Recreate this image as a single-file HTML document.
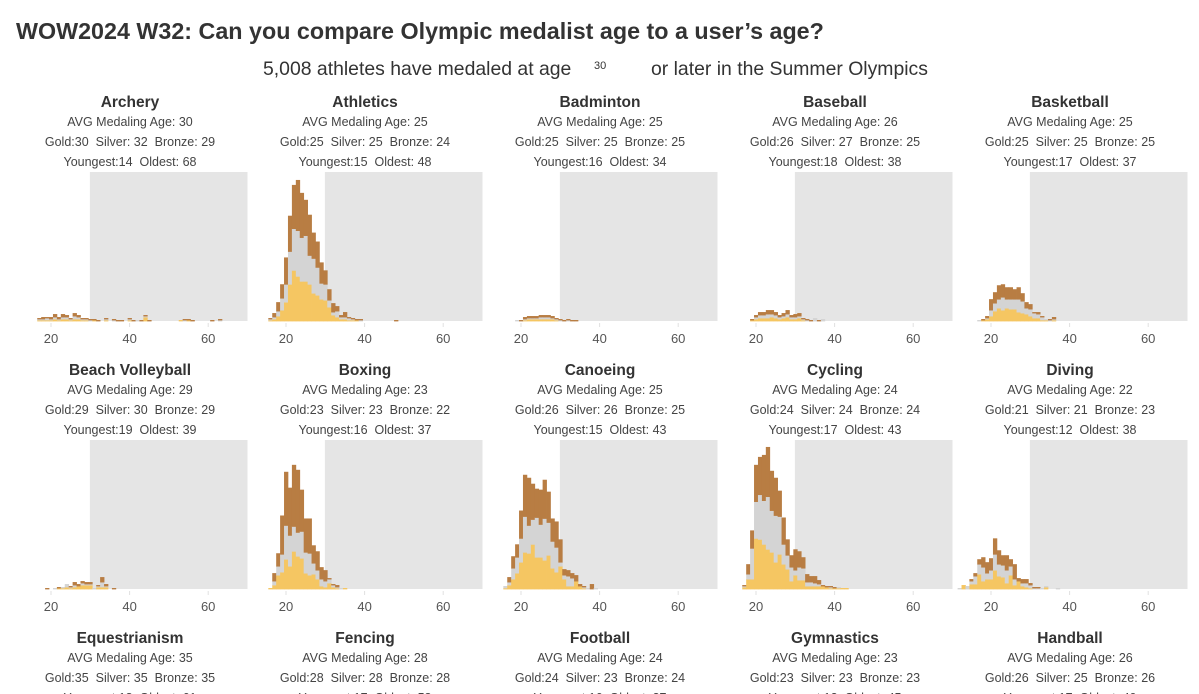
<!DOCTYPE html>
<html><head><meta charset="utf-8">
<style>
html,body{margin:0;padding:0;background:#fff;}
svg{display:block;font-family:"Liberation Sans",sans-serif;}
</style></head>
<body>
<svg id="chart" width="1199" height="694" viewBox="0 0 1199 694">
<text x="16" y="39" font-size="23.3" font-weight="bold" fill="#333">WOW2024 W32: Can you compare Olympic medalist age to a user’s age?</text>
<text x="263" y="75" font-size="19.4" fill="#333">5,008 athletes have medaled at age</text>
<text x="594" y="69" font-size="11" fill="#333">30</text>
<text x="651" y="75" font-size="19.4" fill="#333">or later in the Summer Olympics</text>
<g id="panels"></g>
</svg>
<script>
const sportNames = ["Archery","Athletics","Badminton","Baseball","Basketball","Beach Volleyball","Boxing","Canoeing","Cycling","Diving","Equestrianism","Fencing","Football","Gymnastics","Handball"];
const avgAges = [30,25,25,26,25,29,23,25,24,22,35,28,24,23,26];
const goldAvg = [30,25,25,26,25,29,23,26,24,21,35,28,24,23,26];
const silverAvg = [32,25,25,27,25,30,23,26,24,21,35,28,23,23,25];
const bronzeAvg = [29,24,25,25,25,29,22,25,24,23,35,28,24,23,26];
const youngest = [14,15,16,18,17,19,16,15,17,12,18,17,16,12,17];
const oldest = [68,48,34,38,37,39,37,43,43,38,61,58,37,45,40];
const xTicks = [20,40,60];
const userAge = 30;

const startAges = [17,16,19,19,17,19,16,16,17,12];
const archeryGold = [1,1,1,1,2,1,2,2,1,2,2,1,1,0,1,0,0,1,0,0,0,0,0,1,0,0,0,4,0,0,0,0,0,0,0,0,1,0,1,0,0,0,0,0,0,0,0];
const archerySilver = [1,1,2,1,2,1,2,2,1,3,2,1,1,1,0,0,0,1,0,1,0,0,0,1,0,1,0,1,0,0,0,0,0,0,0,0,0,1,0,0,0,0,0,0,0,0,1];
const archeryBronze = [1,2,1,2,3,2,3,2,1,3,2,1,1,1,1,1,0,1,0,1,1,1,0,1,1,0,1,1,1,0,0,0,0,0,0,0,0,1,1,1,0,0,0,0,1,0,1];
const athleticsGold = [1,2,5,11,19,37,51,45,40,40,37,28,26,22,21,14,6,4,2,2,1,1,1,0,0,0,0,0,0,0,0,0,0];
const athleticsSilver = [1,2,5,12,18,33,42,46,44,46,29,35,28,16,16,7,3,6,2,2,2,1,0,1,0,0,0,0,0,0,0,0,0];
const athleticsBronze = [1,4,9,14,27,36,44,51,45,36,41,26,26,21,14,11,9,5,2,5,1,1,1,1,0,0,0,0,0,0,0,0,1];
const badmintonGold = [0,0,1,2,2,2,2,2,2,2,1,0,0,0,0,0];
const badmintonSilver = [1,0,1,1,1,1,2,2,2,1,1,1,0,1,0,0];
const badmintonBronze = [0,1,2,2,2,2,2,2,2,2,1,1,1,1,1,1];
const baseballGold = [1,2,3,3,3,4,3,2,3,4,2,2,3,1,0,0,0,0,0];
const baseballSilver = [0,2,3,3,4,3,3,2,2,3,2,2,2,1,1,0,3,0,2];
const baseballBronze = [1,2,3,3,4,4,3,2,3,4,2,3,3,1,1,1,0,1,0];
const basketballGold = [0,1,2,5,10,13,11,13,12,12,9,8,7,5,3,3,1,1,0,1];
const basketballSilver = [1,0,1,6,8,9,13,9,10,10,13,12,6,7,5,4,3,1,1,1];
const basketballBronze = [0,1,2,11,11,14,13,12,12,10,12,8,6,5,1,2,1,0,1,2];
const beachGold = [0,0,0,1,1,2,1,2,3,4,4,4,0,2,2,2,0,0];
const beachSilver = [0,0,1,0,1,3,1,2,0,2,1,1,1,1,5,1,0,0];
const beachBronze = [1,0,0,1,0,0,1,3,2,2,2,2,0,1,5,2,0,1];
const boxingGold = [1,4,14,17,30,23,38,33,31,16,14,15,10,3,2,6,2,1,0,1];
const boxingSilver = [0,4,9,18,34,31,25,24,27,21,22,11,9,7,6,4,2,1,1,0];
const boxingBronze = [0,8,13,39,54,48,62,63,42,34,35,18,19,12,11,1,1,2,0,0];
const canoeGold = [1,4,10,16,27,37,36,45,32,32,29,34,21,17,23,10,3,3,8,3,1,0,0,0];
const canoeSilver = [2,3,11,16,24,36,28,25,40,33,42,33,27,25,4,4,10,8,0,0,1,1,0,1];
const canoeBronze = [0,5,12,13,28,42,48,36,29,35,39,31,23,26,23,6,6,5,6,2,1,0,5,0];
const cyclingGold = [2,10,10,51,50,45,40,37,27,35,25,20,8,14,9,9,3,3,3,3,3,2,1,1,1,1,1];
const cyclingSilver = [1,5,31,37,45,44,53,42,47,38,20,14,14,5,13,12,4,4,3,2,0,0,1,0,1,0,0];
const cyclingBronze = [1,10,18,37,38,46,50,40,38,26,27,16,12,21,16,11,8,6,7,4,1,1,1,1,0,0,0];
const divingGold = [0,4,0,5,5,15,8,10,10,19,13,12,6,14,4,8,3,2,1,0,0,0,2,0,0,0];
const divingSilver = [1,0,3,3,8,10,14,6,9,16,12,12,13,9,6,0,3,4,3,1,1,1,1,0,0,1];
const divingBronze = [0,0,0,2,3,5,10,11,12,16,14,10,15,7,15,3,4,4,2,1,1,0,0,0,0,0];

const goldSeries = [archeryGold,athleticsGold,badmintonGold,baseballGold,basketballGold,beachGold,boxingGold,canoeGold,cyclingGold,divingGold];
const silverSeries = [archerySilver,athleticsSilver,badmintonSilver,baseballSilver,basketballSilver,beachSilver,boxingSilver,canoeSilver,cyclingSilver,divingSilver];
const bronzeSeries = [archeryBronze,athleticsBronze,badmintonBronze,baseballBronze,basketballBronze,beachBronze,boxingBronze,canoeBronze,cyclingBronze,divingBronze];

const NS = "http://www.w3.org/2000/svg";
const root = document.getElementById("panels");
const PX_PER_YEAR = 3.93, BAR_W = 4.3, PLOT_H = 149, Y_MAX = 150;
function mk(tag, attrs, parent){const e=document.createElementNS(NS,tag);for(const k in attrs)e.setAttribute(k,attrs[k]);parent.appendChild(e);return e;}
function slug(s){return s.toLowerCase().replace(/[^a-z]+/g,'-');}

sportNames.forEach((name, idx) => {
  const col = idx % 5, row = Math.floor(idx / 5);
  const cx = 130 + 235 * col;
  const x20 = 51 + 235 * col;
  const ty = 107 + 268 * row;
  const base = 321 + 268 * row;
  const xScale = a => x20 + (a - 20) * PX_PER_YEAR;
  const yScale = v => v * PLOT_H / Y_MAX;
  const g = mk("g", {}, root);
  
  
  const t = mk("text", {x:cx, y:ty, "text-anchor":"middle", "font-size":15.5, "font-weight":"bold", fill:"#333"}, g);
  t.textContent = name;
  
  
  const lines = ["AVG Medaling Age: " + avgAges[idx],
    "Gold:" + goldAvg[idx] + "  Silver: " + silverAvg[idx] + "  Bronze: " + bronzeAvg[idx],
    "Youngest:" + youngest[idx] + "  Oldest: " + oldest[idx]];
  const lineNames = ['avg-age-label','medal-avg-label','age-range-label'];
  lines.forEach((s, li) => {
    const lt = mk("text", {x:cx, y:ty + 19 + li * 20, "text-anchor":"middle", "font-size":12.5, fill:"#444"}, g);
    lt.textContent = s.replace(/  /g, "\u00a0 ");
    
    
  });
  if (idx >= goldSeries.length) return;
  const bg = mk("rect", {x:xScale(userAge - 0.1), y:base - PLOT_H, width:xScale(70) - xScale(userAge - 0.1), height:PLOT_H, fill:"#e5e5e5"}, g);
  
  
  const gs = goldSeries[idx], ss = silverSeries[idx], bs = bronzeSeries[idx], a0 = startAges[idx];
  gs.forEach((gv, i) => {
    const age = a0 + i;
    const x = xScale(age) - PX_PER_YEAR / 2;
    let y = base;
    [[gv,"#f5c662","gold-bar"],[ss[i],"#d4d4d4","silver-bar"],[bs[i],"#b87d43","bronze-bar"]].forEach(([v,c,n]) => {
      if (v <= 0) return;
      const h = yScale(v);
      y -= h;
      const r = mk("rect", {x:x, y:y, width:BAR_W, height:h + 0.4, fill:c}, g);
      
      
    });
  });
  xTicks.forEach(tv => {
    mk("line", {x1:xScale(tv), x2:xScale(tv), y1:base + 2, y2:base + 6, stroke:"#e0e0e0", "stroke-width":1}, g);
    const tl = mk("text", {x:xScale(tv), y:base + 22, "text-anchor":"middle", "font-size":13, fill:"#555"}, g);
    tl.textContent = tv;
    
    
  });
});
</script>
</body></html>
